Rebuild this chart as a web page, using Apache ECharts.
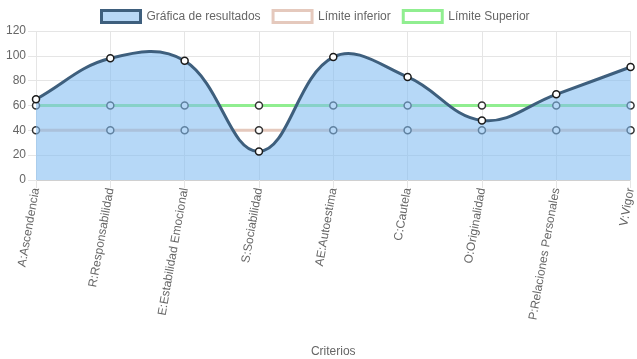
<!DOCTYPE html>
<html><head><meta charset="utf-8">
<script src="https://cdn.jsdelivr.net/npm/echarts@6/dist/echarts.min.js"></script>
<style>html,body{margin:0;padding:0;background:#fff}#c{width:637px;height:359px}</style>
</head><body><div id="c"></div>
<script>
const categories = ['A:Ascendencia','R:Responsabilidad','E:Estabilidad Emocional','S:Sociabilidad','AE:Autoestima','C:Cautela','O:Originalidad','P:Relaciones Personales','V:Vigor'];
const resultados = [65, 98, 96, 23, 99, 83, 48, 69, 91];
const limiteInferior = [40, 40, 40, 40, 40, 40, 40, 40, 40];
const limiteSuperior = [60, 60, 60, 60, 60, 60, 60, 60, 60];
const yTicks = {min: 0, max: 120, interval: 20};

const chart = echarts.init(document.getElementById('c'), null, {renderer: 'canvas'});
const font = 'Liberation Sans, Arial, sans-serif';
const tension = 0.4;

// Chart.js-style spline (no bounding-box constraint), computed in pixel space from axis coords
function splinePath(pts) {
  const n = pts.length;
  const cps = pts.map((p, i) => {
    const prev = pts[Math.max(0, i - 1)];
    const next = pts[Math.min(n - 1, i + 1)];
    const d01 = Math.hypot(p[0] - prev[0], p[1] - prev[1]);
    const d12 = Math.hypot(next[0] - p[0], next[1] - p[1]);
    let s01 = d01 / (d01 + d12), s12 = d12 / (d01 + d12);
    if (isNaN(s01)) s01 = 0; if (isNaN(s12)) s12 = 0;
    const fa = tension * s01, fb = tension * s12;
    return {
      prev: [p[0] - fa * (next[0] - prev[0]), p[1] - fa * (next[1] - prev[1])],
      next: [p[0] + fb * (next[0] - prev[0]), p[1] + fb * (next[1] - prev[1])]
    };
  });
  let d = 'M' + pts[0][0] + ' ' + pts[0][1];
  for (let i = 1; i < n; i++) {
    const a = cps[i - 1].next, b = cps[i].prev;
    d += ' C' + a[0] + ' ' + a[1] + ' ' + b[0] + ' ' + b[1] + ' ' + pts[i][0] + ' ' + pts[i][1];
  }
  return d;
}

chart.setOption({
  animation: false,
  textStyle: {fontFamily: font},
  legend: {
    top: 9, left: 100, padding: 0, icon: 'rect', itemWidth: 39, itemHeight: 12, itemGap: 11,
    textStyle: {color: '#666', fontSize: 12, fontFamily: font, padding: [0, 0, 0, 1]},
    data: [
      {name: 'Gráfica de resultados', itemStyle: {color: 'rgb(184,216,246)', borderColor: '#3e5f7d', borderWidth: 3}},
      {name: 'Límite inferior', itemStyle: {color: '#fff', borderColor: '#e5c9bd', borderWidth: 3}},
      {name: 'Límite Superior', itemStyle: {color: '#fff', borderColor: '#90ee90', borderWidth: 3}}
    ]
  },
  grid: {left: 36, right: 4, top: 31, bottom: 179, containLabel: false},
  xAxis: {
    type: 'category', data: categories, boundaryGap: false,
    name: 'Criterios', nameLocation: 'middle', nameGap: 166,
    nameTextStyle: {color: '#666', fontSize: 12, fontFamily: font},
    axisLine: {lineStyle: {color: '#d0d0d0', width: 1}},
    axisTick: {show: true, length: 8, lineStyle: {color: '#e5e5e5'}},
    splitLine: {show: true, lineStyle: {color: '#e5e5e5'}},
    axisLabel: {rotate: 80, color: '#666', fontSize: 12, fontFamily: font, margin: 8}
  },
  yAxis: {
    type: 'value', min: yTicks.min, max: yTicks.max, interval: yTicks.interval,
    axisLine: {show: false},
    axisTick: {show: true, length: 8, lineStyle: {color: '#e5e5e5'}},
    splitLine: {show: true, lineStyle: {color: '#e5e5e5'}},
    axisLabel: {color: '#666', fontSize: 12, fontFamily: font, margin: 10}
  },
  series: [
    {
      name: 'Gráfica de resultados', type: 'custom', z: 3,
      data: resultados.map((v, i) => [i, v]),
      encode: {x: 0, y: 1},
      renderItem: function (params, api) {
        if (params.dataIndex !== 0) return null;
        const pts = resultados.map((v, i) => api.coord([i, v]));
        const base = api.coord([0, yTicks.min])[1];
        const curve = splinePath(pts);
        const area = curve + ' L' + pts[pts.length - 1][0] + ' ' + base + ' L' + pts[0][0] + ' ' + base + ' Z';
        return {
          type: 'group',
          children: [
            {type: 'path', shape: {pathData: area}, style: {fill: 'rgba(130,188,242,0.58)', stroke: null}},
            {type: 'path', shape: {pathData: curve}, style: {fill: null, stroke: '#3e5f7d', lineWidth: 3}}
          ]
        };
      }
    },
    {
      name: 'Gráfica de resultados', type: 'line', data: resultados, z: 4,
      symbol: 'circle', symbolSize: 7, showSymbol: true,
      lineStyle: {width: 0, opacity: 0},
      itemStyle: {color: '#fff', borderColor: '#1a1a1a', borderWidth: 1.5}
    },
    {
      name: 'Límite inferior', type: 'line', data: limiteInferior, z: 1,
      symbol: 'circle', symbolSize: 7,
      lineStyle: {color: '#e5c9bd', width: 3},
      itemStyle: {color: '#fff', borderColor: '#333', borderWidth: 1.5}
    },
    {
      name: 'Límite Superior', type: 'line', data: limiteSuperior, z: 1,
      symbol: 'circle', symbolSize: 7,
      lineStyle: {color: '#90ee90', width: 3},
      itemStyle: {color: '#fff', borderColor: '#333', borderWidth: 1.5}
    }
  ]
});
</script></body></html>
